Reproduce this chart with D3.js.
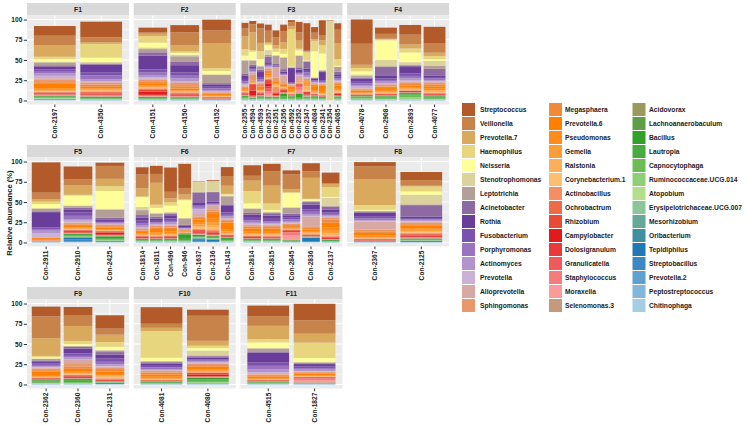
<!DOCTYPE html>
<html><head><meta charset="utf-8">
<script src="https://cdn.jsdelivr.net/npm/d3@7"></script>
<style>body{margin:0;background:#fff}svg{display:block;font-family:"Liberation Sans",Arial,sans-serif;font-weight:bold}</style>
</head><body><svg id="c" width="745" height="425"></svg>
<script>
const genera = ["Streptococcus","Veillonella","Prevotella.7","Haemophilus","Neisseria","Stenotrophomonas","Leptotrichia",
"Acinetobacter","Rothia","Fusobacterium","Porphyromonas","Actinomyces","Prevotella",
"Alloprevotella","Sphingomonas","Megasphaera","Prevotella.6","Pseudomonas","Gemella","Ralstonia","Corynebacterium.1","Actinobacillus",
"Ochrobactrum","Rhizobium","Campylobacter","Dolosigranulum","Granulicatella","Staphylococcus","Moraxella","Selenomonas.3",
"Acidovorax","Lachnoanaerobaculum","Bacillus","Lautropia","Capnocytophaga","Ruminococcaceae.UCG.014","Atopobium","Erysipelotrichaceae.UCG.007",
"Mesorhizobium","Oribacterium","Tepidiphilus","Streptobacillus","Prevotella.2","Peptostreptococcus","Chitinophaga"];
const palette = ["#B35A2A","#C7834A","#D9AA5E","#E8D67F","#FFFF99","#DCD29C","#B39E98",
"#8E6AA2","#6A3D9A","#7B52AE","#9A73C0","#B393CC","#CAB2D6",
"#D8A9A3","#E8986A","#F0893A","#FF7F00","#FF8C1A","#FD9D35","#FDAE5A","#FDBF6F","#F58E63",
"#EE6A48","#E94A36","#E31A1C","#E93A3B","#F05A5A","#F47C7C","#FB9A99","#C59A7C",
"#9A9A5E","#5E9E44","#33A02C","#47AB3F","#6CBD55","#8FD076","#B2DF8A","#8BC59A",
"#66A897","#3F8FA0","#1F78B4","#3C88C4","#5EA0CF","#82B6DB","#A6CEE3"];
const facetNames = ["F1","F2","F3","F4","F5","F6","F7","F8","F9","F10","F11"];
const samplesF1 = ["Con-2197","Con-4350"];
const samplesF2 = ["Con-4151","Con-4150","Con-4152"];
const samplesF3 = ["Con-2355","Con-4594","Con-4593","Con-2357","Con-2351","Con-2356","Con-4592","Con-2352","Con-2347","Con-4084","Con-2341","Con-2354","Con-4085"];
const samplesF4 = ["Con-4078","Con-2908","Con-2893","Con-4077"];
const samplesF5 = ["Con-2911","Con-2910","Con-2425"];
const samplesF6 = ["Con-1814","Con-1811","Con-496","Con-946","Con-1637","Con-2136","Con-1143"];
const samplesF7 = ["Con-2814","Con-2815","Con-2845","Con-2836","Con-2137"];
const samplesF8 = ["Con-2367","Con-2125"];
const samplesF9 = ["Con-2362","Con-2360","Con-2131"];
const samplesF10 = ["Con-4081","Con-4080"];
const samplesF11 = ["Con-4515","Con-1827"];
// relative abundance (%) per sample, in the order of `genera`
const valuesF1 = [
[12,12,14,3,3,1,3.5, 2,3,3,2,3,3, 2,3,2,6,1.5,1,0.8,0.5,0.5, 0.5,1,0.8,0.3,0.5,0.3,0.3,0.3, 0.3,0.5,0.8,0.5,1,0.5,0.5,0.3, 0.2,0.3,0.3,0.3,0.3,0.2,0.2],
[19.5,6,2,17,5.5,1.5,1, 1,9,4,5,2,1, 1,2.5,2.5,2,1.5,1,0.5,0.5,0.5, 1.5,0.8,0.4,0.3,1.5,0.8,0.4,0.2, 0.2,0.4,1.2,0.8,0.6,0.4,0.3,0.2, 0.2,0.1,0.2,0.1,0.1,0.1,0.1]];
const valuesF2 = [
[6,1.5,3,8,6,2,4, 4,17,4,3,3,1.5, 1,3,2.5,2,1.5,1,0.5,0.5,1, 1,2,3,1.5,0.8,0.4,0.4,0.2, 0.2,0.4,1,0.8,0.5,0.3,0.3,0.1, 0.2,0.1,0.3,0.2,0.1,0.1,0.1],
[9,15.5,8,2,2,2,7, 4,9,4,3,4,1, 1,4,3,2,1,0.5,0.5,0.5,0.5, 1,1.5,1,0.5,0.5,0.3,0.3,0.2, 0.2,0.4,1,0.6,0.5,0.3,0.2,0.1, 0.2,0.1,0.2,0.2,0.1,0.1,0.1],
[13.5,16,30.5,3.5,4,1,10, 1.5,3,2,2,1.5,1, 0.5,1,1,2,0.5,0.3,0.3,0.3,0.3, 0.3,0.5,0.5,0.2,0.2,0.2,0.1,0.1, 0.1,0.2,0.3,0.2,0.2,0.1,0.1,0.1, 0.1,0.1,0.2,0.1,0.1,0.1,0.1]];
const valuesF3 = [
[7,9.5,16,8,5,1,16, 3,5,2,2,1.5,1.5, 1,2,1.5,1,1,0.5,0.5,0.5,0.5, 0.5,1,1,0.3,0.3,0.3,0.2,0.2, 0.3,0.5,1.2,0.8,1,0.5,0.4,0.3, 0.2,0.1,0.2,0.2,0.2,0.1,0.1],
[4,10,22,2,10,1,5, 2,3,1,2,1,1, 2,8,1,0.5,0.5,0.5,0.3,0.3,0.5, 0.5,8,6,1,0.5,0.3,0.3,0.2, 0.2,0.3,1,0.5,0.5,0.3,0.2,0.1, 0.1,0.1,0.1,0.1,0.1,0.1,0.1],
[6,18,10,10,8,1,4, 2,8,2,2,1,1, 1,2,2,3,1.5,1,0.5,0.5,0.5, 0.5,1,1.5,0.5,0.3,0.2,0.2,0.2, 0.3,0.6,1.2,1,0.8,0.5,0.4,0.2, 0.1,0.1,0.1,0.1,0.1,0.1,0.1],
[7.5,14,2,2,6,6,2, 8,2,1,1,1,1, 1,2,4,2,2,1,0.5,0.5,1, 1,4,4,2,4,3,3,0.5, 0.2,0.3,1,0.8,0.8,0.4,0.3,0.2, 0.1,0.1,0.1,0.1,0.1,0.1,0.1],
[8.5,10,4,4,4,1,10, 2,1,0.5,0.5,0.5,0.5, 12,3,2,2,1.5,1,1,1,6, 1,1.5,1.5,0.5,0.5,0.3,0.3,0.2, 0.2,0.4,1,0.8,0.8,0.4,0.3,0.2, 0.1,0.1,0.1,0.1,0.1,0.1,0.1],
[8,14,8,6,4,1,14, 3,2,1,1,0.5,0.5, 8,2,1.5,1.5,1,0.5,0.5,0.5,1, 1,1.5,1,0.5,0.5,0.3,0.2,0.2, 0.3,0.5,3,2,1.5,0.5,0.3,0.2, 0.1,0.1,0.1,0.1,0.1,0.1,0.1],
[2.5,5,4,46,0.5,0.3,0.5, 0.5,18,1,0.5,0.3,0.3, 0.5,1,1,4,2,1.5,1,0.5,0.5, 0.3,0.5,0.5,0.3,0.3,0.2,0.2,0.1, 0.2,0.3,1.5,1,1,0.5,0.3,0.2, 0.1,0.1,0.1,0.1,0.05,0.05,0],
[13,10,10,2,6,1,14, 3,3,1.5,1,1,0.5, 6,1,0.5,0.5,0.5,0.3,0.3,0.3,0.5, 0.5,1,1,1,1.5,3,4,0.3, 0.2,0.5,4,2,1,0.3,0.2,0.1, 0.1,0.1,0.1,0.1,0.05,0.05,0],
[34,1,1,10,0.5,0.5,1, 8,3,2,4,2,1, 1,1.5,1.5,1,2,3,5,1,0.5, 0.5,1.5,1.5,0.5,1,0.5,0.3,0.2, 0.2,0.3,1,1,1,0.5,0.3,0.2, 0.1,0.1,0.1,0.1,0.05,0.05,0],
[7,8,2,13,32,0.5,0.5, 1,2,1,1,0.5,0.5, 0.5,1.5,2,5,2,1,0.5,0.5,0.5, 0.3,0.5,0.8,0.3,0.3,0.2,0.2,0.1, 0.2,0.3,1.5,1,1,0.5,0.3,0.2, 0.1,0.1,0.1,0.1,0.05,0.05,0],
[19,6,6,10,20,1,1, 1,10,2,1,0.5,0.5, 0.5,1,1,8,2,1,0.5,0.3,0.3, 0.3,0.5,0.5,0.2,0.2,0.1,0.1,0.1, 0.2,0.3,1,0.8,0.8,0.4,0.3,0.2, 0.1,0.1,0.1,0.1,0.05,0.05,0],
[0.5,0.2,0.2,0.2,0.2,98,0.1, 0,0,0,0,0,0, 0,0,0,0,0,0,0,0,0, 0,0,0,0,0,0,0,0, 0,0,0,0,0,0,0,0, 0,0,0,0,0,0,0],
[8,17,19.5,8,1,0.5,6, 3,3,2,2,1,1, 1,2,2,4,2,1.5,0.5,0.5,0.5, 0.5,1,1.5,0.3,0.3,0.2,0.2,0.1, 0.2,0.4,1.2,1,1,0.5,0.3,0.2, 0.1,0.1,0.1,0.1,0.05,0.05,0]];
const valuesF4 = [
[30,26,4,4,4,2,2, 1,4,2,2,2,2, 0.5,1,1.5,2,1,0.5,0.5,0.3,0.3, 0.3,0.5,0.7,0.2,0.2,0.1,0.1,0.1, 0.2,0.3,1,0.8,0.8,0.5,0.3,0.2, 0.2,0.1,0.3,0.2,0.2,0.1,0.1],
[7.7,6,1,1,24,8,1, 11,3,2,2,2,1, 1,2,2,2.5,1.5,1,1,0.5,0.5, 0.3,0.5,0.8,0.3,0.3,0.2,0.2,0.1, 0.2,0.4,1.2,1,1,0.5,0.4,0.2, 0.1,0.1,0.1,0.1,0.1,0.1,0.1],
[12,12,5,5,12,3,1, 2,8,3,3,2,2, 1,2,2,2,1.5,1,0.5,0.5,0.5, 0.3,0.5,1,0.2,0.2,0.1,0.1,0.1, 0.3,0.5,1.5,1.5,2,2,1,0.3, 0.1,0.1,0.1,0.1,0.1,0.1,0.1],
[20,12,4,4,2,6,4, 8,2,2,2,1,1, 1,2,2.5,3,2,1.5,1,0.5,0.5, 0.5,1,1,0.3,0.2,0.2,0.1,0.1, 0.2,0.4,1.2,1,1,0.5,0.4,0.2, 0.1,0.1,0.1,0.1,0.1,0.1,0.1]];
const valuesF5 = [
[37.5,8,3,3,5,1,3, 1,19,2,2,3,5, 0.3,0.3,0.5,2,0.3,0.2,0.2,0.1,0.1, 0.1,0.2,0.2,0.1,0.1,0.1,0.1,0.1, 0.1,0.1,0.1,0.1,0.1,0.1,0.1,0.1, 0.1,0.1,0.1,0.1,0.1,0.1,0.1],
[16,7,12,1,12,1,2, 2,4,4,4,2,2, 1,1.5,2,2,1,0.5,0.5,0.5,0.5, 0.5,1,1.5,0.5,0.5,0.3,0.2,0.1, 0.2,0.3,1.5,1,0.6,0.3,0.2,0.1, 0.3,0.3,2,3,0.5,0.3,0.2],
[4,16,9,6,22,1,10, 2,2,1.5,1,1,0.5, 1,1.5,1.5,2,1,0.5,0.3,0.3,0.3, 0.5,1.5,2,1,0.5,0.3,0.2,0.1, 0.3,0.5,2,1.5,1,0.4,0.2,0.1, 0.3,0.2,0.5,0.5,0.3,0.2,0.1]];
const valuesF6 = [
[9,17,10,1,12,4,6, 3,4,3,3,2,1, 1,2,2,2,1,1,0.5,0.3,0.2, 0.4,1,1,0.3,0.2,0.1,0.1,0.1, 0.2,0.3,1,0.8,0.8,0.5,0.3,0.1, 0.1,0.1,0.1,0.1,0.1,0.1,0.1],
[10,11,27,4,6,1,4, 2,3,2,1.5,1,0.5, 1,2,2,4,2,1.5,0.5,0.5,0.5, 0.5,0.8,0.8,0.3,0.2,0.2,0.1,0.1, 0.2,0.3,1,0.8,0.8,0.4,0.3,0.2, 0.1,0.1,0.1,0.1,0.1,0.1,0.1],
[30,8,5,4,8,1,1, 2,4,3,2,2,1, 1,2,2,3,2,1.5,1,0.5,0.5, 0.5,1,1,0.3,0.2,0.2,0.1,0.1, 0.2,0.3,1,0.8,0.8,0.4,0.3,0.2, 0.1,0.1,0.1,0.1,0.1,0.1,0.1],
[30,8,6,1,22,0.5,8, 0.5,3,0.5,0.3,0.3,0.3, 0.3,1,1,1,0.5,0.3,0.2,0.2,0.2, 0.2,0.3,0.3,0.1,0.1,0.1,0.1,0.1, 0.3,1,5,2,1,0.5,0.3,0.2, 0.1,0.1,0.1,0.1,0.05,0.05,0],
[0.5,0.3,0.3,0.3,0.3,11,1, 12,4,1.5,1.5,1.5,5, 4,2,2,3,3,2,2,1.5,0.5, 1,1.5,1,1,1,0.5,0.3,0.2, 0.2,0.3,1.5,1,0.5,0.3,0.2,0.2, 0.5,1,2,1,0.5,0.3,0.2],
[1,0.3,0.3,0.3,0.3,12,0.5, 12,2,1,0.5,0.3,0.2, 6,2,3,6,4,4,3,2,2, 0.5,1.5,1.5,1,0.5,0.5,0.3,0.2, 0.2,0.3,1,1,0.6,0.4,0.3,0.2, 0.3,0.3,2,1,0.3,0.2,0.1],
[11,12,10,1,1,1,10, 2,8,3,2,2,1, 1,1.5,2,8,3,2,1,0.5,0.5, 0.5,1,0.8,0.3,0.2,0.1,0.1,0.1, 0.2,0.4,1.5,1.5,1,0.6,0.4,0.2, 0.1,0.1,0.1,0.1,0.1,0.1,0.1]];
const valuesF7 = [
[13,6,13,15,6,1,5, 2,4,3,2,2,1, 1,2,2,4,2,1.5,1,0.5,0.5, 0.3,1,1,0.3,0.2,0.2,0.1,0.1, 0.2,0.3,1,0.8,0.8,0.4,0.3,0.2, 0.1,0.1,0.1,0.1,0.1,0.1,0.1],
[9,18,22,8,2,1,1, 3,4,3,2,1,1, 1,2,2,4,2,1.5,1,0.5,0.5, 0.5,0.8,0.8,0.3,0.2,0.2,0.1,0.1, 0.2,0.3,1,0.8,0.8,0.4,0.3,0.2, 0.1,0.1,0.1,0.1,0.1,0.1,0.1],
[5,18,4,1,17.5,1,7, 2,3,2,2,2,1, 0.5,1.5,1.5,2,1,0.5,0.5,0.3,0.3, 0.3,1,1,0.5,0.5,3,6,0.2, 0.2,0.3,0.8,0.5,0.3,0.2,0.1,0.1, 0.1,0.1,0.1,0.1,0.05,0.05,0],
[10,8,26,0.5,2,0.5,1, 3,6,3,3,2,1, 12,2,2,2,1.5,1,0.5,0.5,0.5, 0.3,0.8,0.8,0.2,0.2,0.2,0.1,0.1, 0.1,0.1,0.1,0.1,0.1,0.1,0.1,0.1, 0.3,0.3,4,1,0.4,0.2,0.2],
[13,1,4,12,1,10,1, 4,3,2,2,1,1, 1,2,4,6,4,3,2,1,1, 0.3,1,1.5,0.3,0.3,0.2,0.1,0.1, 0.2,0.3,1,0.6,0.4,0.2,0.2,0.1, 0.1,0.1,0.1,0.1,0.05,0.05,0]];
const valuesF8 = [
[5,16,32,6,1,0.5,1, 1,5,2,2,1,1, 10,2,2,3,2,1,0.5,0.5,0.5, 0.3,0.5,0.8,0.2,0.2,0.1,0.1,0.1, 0.1,0.2,0.4,0.3,0.2,0.1,0.1,0.1, 0.1,0.1,0.1,0.1,0.05,0.05,0],
[10,7,1,6,4,12,1, 14,2,1.5,1,1,1, 1,2,2,3,2,1.5,1,1,1, 1,1.5,1.5,0.5,0.5,0.5,0.3,0.2, 0.2,0.3,1,0.5,0.3,0.2,0.2,0.1, 0.2,0.2,1,0.5,0.2,0.1,0.1]];
const valuesF9 = [
[12,27,22,1.5,1.5,0.5,2, 2,2,1.5,1.5,1,1, 1,2,2,4,2,0.5,0.5,0.3,0.3, 0.3,0.8,0.7,0.2,0.2,0.1,0.1,0.1, 0.2,0.4,1.2,1,1,0.5,0.4,0.2, 0.1,0.1,0.1,0.1,0.1,0.1,0.1],
[10,13.5,18.5,4,2,0.5,1, 2,6,3,2,2,1, 4,4,3,3,2,1,0.5,0.5,0.5, 0.5,1.5,1.5,0.3,0.2,0.2,0.1,0.1, 0.3,0.5,2,1.5,1.2,0.6,0.4,0.2, 0.1,0.1,0.1,0.1,0.1,0.1,0.1],
[16.5,7.5,9,6,4,0.5,2, 3,5,4,3,2,1, 1,2,3,3,2,1,1.5,1,1, 0.3,0.7,0.8,0.2,0.1,0.1,0.1,0.1, 0.1,0.2,0.5,0.5,0.3,0.2,0.1,0.1, 0.1,0.1,1,0.5,0.2,0.1,0.1]];
const valuesF10 = [
[20.5,5,4,33,4,0.5,1, 1.5,3,2,2,1,0.5, 1,2,2,3,2,1,0.5,0.3,0.3, 0.2,0.5,0.5,0.2,0.1,0.1,0.1,0.1, 0.2,0.3,0.8,0.6,0.6,0.3,0.2,0.1, 0.1,0.1,0.1,0.1,0.05,0.05,0],
[7.5,31,6,3,3,6,1, 2,2,1.5,1,1,0.5, 1,2,2,3,2,1,0.5,0.3,0.2, 0.5,2,2,0.5,0.5,0.3,0.2,0.1, 0.3,0.5,2,1.5,1.5,0.8,0.5,0.3, 0.3,0.2,0.3,0.2,0.2,0.1,0.1]];
const valuesF11 = [
[13,12,16.5,4,7,0.5,4.5, 1,12,4,4,4,2, 0.5,1,1.5,2,1,0.5,0.3,0.3,0.3, 0.3,0.5,0.5,0.2,0.2,0.1,0.1,0.1, 0.2,0.3,0.5,0.5,0.3,0.2,0.1,0.1, 0.2,0.2,0.3,0.3,0.2,0.1,0.1],
[20.5,16.5,11,19,5,0.5,1, 1,3,2,2,1.5,0.5, 0.5,1,1,2,1,0.5,0.3,0.3,0.2, 0.3,0.5,0.5,0.5,0.5,1.5,3,0.2, 0.2,0.2,0.3,0.3,0.2,0.1,0.1,0.1, 0.1,0.1,0.2,0.2,0.1,0.1,0.1]];
const yTicks = [0,25,50,75,100];
const yTitle = "Relative abundance (%)";

const facetSamples = [samplesF1,samplesF2,samplesF3,samplesF4,samplesF5,samplesF6,samplesF7,samplesF8,samplesF9,samplesF10,samplesF11];
const facetValues = [valuesF1,valuesF2,valuesF3,valuesF4,valuesF5,valuesF6,valuesF7,valuesF8,valuesF9,valuesF10,valuesF11];

const svg = d3.select("#c");
const colX = [27,133.7,240.4,347.1], PW = 102, STRIP = 12.5, PH = 89, rowTop = [3,145,287];
const color = d3.scaleOrdinal().domain(genera).range(palette);
const stackKeys = genera.slice().reverse();

facetNames.forEach((fname, i) => {
  const c = i % 4, r = Math.floor(i / 4);
  const x0 = colX[c], sTop = rowTop[r], pTop = sTop + STRIP;
  const samples = facetSamples[i], vals = facetValues[i];
  const rows = samples.map((s, j) => {
    const o = {sample: s};
    genera.forEach((g, k) => o[g] = vals[j][k] || 0);
    return o;
  });
  const x = d3.scaleBand().domain(samples).range([0, PW]).paddingInner(0.1).paddingOuter(0.15);
  const y = d3.scaleLinear().domain([-5, 105]).range([PH, 0]);

  svg.append("rect").attr("x", x0).attr("y", sTop).attr("width", PW).attr("height", STRIP).attr("fill", "#D9D9D9");
  svg.append("text").attr("x", x0 + PW/2).attr("y", sTop + STRIP/2).attr("dy", "0.35em")
    .attr("text-anchor", "middle").attr("font-size", 6.8).attr("fill", "#1A1A1A").text(fname);

  const g = svg.append("g").attr("transform", `translate(${x0},${pTop})`);
  g.append("rect").attr("width", PW).attr("height", PH).attr("fill", "#EBEBEB");
  [12.5,37.5,62.5,87.5].forEach(v => g.append("line").attr("x1",0).attr("x2",PW).attr("y1",y(v)).attr("y2",y(v)).attr("stroke","#fff").attr("stroke-width",0.5));
  yTicks.forEach(v => g.append("line").attr("x1",0).attr("x2",PW).attr("y1",y(v)).attr("y2",y(v)).attr("stroke","#fff").attr("stroke-width",1));
  samples.forEach(s => g.append("line").attr("x1",x(s)+x.bandwidth()/2).attr("x2",x(s)+x.bandwidth()/2).attr("y1",0).attr("y2",PH).attr("stroke","#fff").attr("stroke-width",1));

  const series = d3.stack().keys(stackKeys)(rows);
  g.append("g").selectAll("g").data(series).join("g").attr("fill", d => color(d.key))
    .selectAll("rect").data(d => d).join("rect")
    .attr("x", d => x(d.data.sample)).attr("width", x.bandwidth())
    .attr("y", d => y(d[1])).attr("height", d => Math.max(0, y(d[0]) - y(d[1])));

  const xa = g.append("g").attr("transform", `translate(0,${PH})`)
    .call(d3.axisBottom(x).tickSize(2.7).tickSizeOuter(0).tickPadding(1));
  xa.select(".domain").remove();
  xa.selectAll(".tick line").attr("stroke", "#333");
  xa.selectAll("text").attr("transform", "rotate(-90)").attr("x", -4.2).attr("y", 0).attr("dy", "0.35em")
    .attr("text-anchor", "end").attr("font-size", 6.6).attr("font-weight", "bold").attr("fill", "#1A1A1A")
    .attr("font-family", '"Liberation Sans",Arial,sans-serif');

  if (c === 0) {
    const ya = g.append("g").call(d3.axisLeft(y).tickValues(yTicks).tickSize(3.2).tickPadding(1.5));
    ya.select(".domain").remove();
    ya.selectAll(".tick line").attr("stroke", "#333");
    ya.selectAll("text").attr("font-size", 6.6).attr("font-weight", "bold").attr("fill", "#1A1A1A")
      .attr("font-family", '"Liberation Sans",Arial,sans-serif');
  }
});

svg.append("text").attr("transform", "translate(9.5,213) rotate(-90)").attr("text-anchor", "middle")
  .attr("dy", "0.35em").attr("font-size", 7.6).attr("fill", "#1A1A1A").text(yTitle);

const legCols = [{kx:462, tx:480},{kx:549, tx:565},{kx:632.5, tx:649}];
genera.forEach((gname, i) => {
  const col = Math.floor(i / 15), row = i % 15;
  const yy = 103 + row * 14;
  svg.append("rect").attr("x", legCols[col].kx).attr("y", yy).attr("width", 13).attr("height", 13).attr("fill", color(gname));
  svg.append("text").attr("x", legCols[col].tx).attr("y", yy + 6.5).attr("dy", "0.35em")
    .attr("font-size", 6.7).attr("fill", "#1A1A1A").text(gname);
});
</script></body></html>
